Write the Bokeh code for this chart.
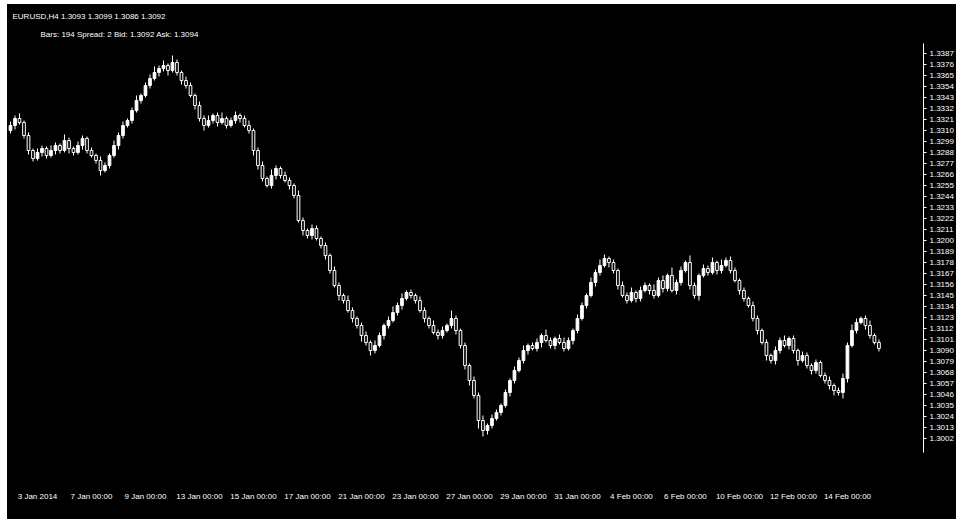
from bokeh.plotting import figure
from bokeh.models import Range1d, FixedTicker, PrintfTickFormatter, Title, ColumnDataSource
from bokeh.embed import file_html
from bokeh.resources import INLINE

# ---- data ----
first_open = 1.3310
close = [
    1.3315, 1.3322, 1.3318,
    1.3305, 1.3290, 1.3282,
    1.3288, 1.3292, 1.3285, 1.3290, 1.3295, 1.3290, 1.3300, 1.3292, 1.3288, 1.3295, 1.3302, 1.3290, 1.3285, 1.3280, 1.3270,
    1.3275, 1.3285, 1.3295, 1.3305, 1.3315, 1.3320,
    1.3330, 1.3340, 1.3345, 1.3355, 1.3362, 1.3368, 1.3372,
    1.3375, 1.3370, 1.3378, 1.3368, 1.3360,
    1.3355, 1.3345, 1.3335, 1.3322,
    1.3315, 1.3320, 1.3325, 1.3318, 1.3322, 1.3315, 1.3320, 1.3325, 1.3322, 1.3315, 1.3310,
    1.3290, 1.3275, 1.3262, 1.3255, 1.3265,
    1.3272, 1.3265, 1.3260, 1.3255, 1.3245,
    1.3220, 1.3210, 1.3205, 1.3212, 1.3202, 1.3195, 1.3185,
    1.3170, 1.3155, 1.3145, 1.3140, 1.3130, 1.3122,
    1.3115, 1.3105, 1.3098, 1.3090, 1.3095,
    1.3105, 1.3115, 1.3120, 1.3128, 1.3135,
    1.3142, 1.3148, 1.3145, 1.3140,
    1.3130, 1.3122, 1.3115, 1.3108, 1.3105, 1.3110,
    1.3115, 1.3122, 1.3110, 1.3095,
    1.3075, 1.3060, 1.3045, 1.3020,
    1.3010, 1.3015, 1.3022, 1.3028,
    1.3035, 1.3048, 1.3060, 1.3070,
    1.3080, 1.3090, 1.3095, 1.3092, 1.3098,
    1.3105, 1.3100, 1.3095, 1.3102, 1.3098, 1.3092, 1.3100,
    1.3110, 1.3122, 1.3135, 1.3145, 1.3158,
    1.3168, 1.3175, 1.3182, 1.3178, 1.3170,
    1.3155, 1.3145, 1.3140, 1.3148, 1.3142, 1.3150,
    1.3155, 1.3150, 1.3145, 1.3160, 1.3152, 1.3165, 1.3150, 1.3158,
    1.3170, 1.3178, 1.3155, 1.3145, 1.3165,
    1.3172, 1.3168, 1.3178, 1.3170, 1.3175, 1.3180, 1.3170,
    1.3160, 1.3150, 1.3142, 1.3135,
    1.3122, 1.3110, 1.3098, 1.3085, 1.3080,
    1.3090, 1.3100, 1.3095, 1.3102, 1.3090,
    1.3080, 1.3085, 1.3075, 1.3070, 1.3078, 1.3065, 1.3060,
    1.3055, 1.3050, 1.3048, 1.3062,
    1.3095, 1.3110, 1.3118, 1.3122, 1.3115,
    1.3105, 1.3098, 1.3092,
]
# wick lengths above / below the body, in pips
upper_wick = [
    4, 3, 5, 2, 3, 2, 4, 3, 2, 5,
    3, 2, 6, 3, 2, 4, 3, 2, 3, 2,
    4, 3, 2, 5, 3, 4, 2, 3, 5, 2,
    3, 4, 6, 3, 5, 2, 7, 3, 2, 4,
    3, 2, 4, 3, 5, 2, 3, 6, 2, 3,
    4, 2, 3, 5, 2, 3, 4, 2, 6, 3,
    2, 4, 3, 2, 5, 3, 2, 4, 3, 2,
    3, 2, 4, 3, 2, 5, 3, 2, 3, 4,
    2, 5, 3, 2, 4, 6, 3, 5, 2, 3,
    2, 4, 3, 2, 5, 3, 4, 2, 8, 3,
    2, 3, 2, 4, 3, 5, 2, 4, 3, 2,
    3, 2, 4, 3, 5, 2, 3, 4, 2, 6,
    3, 2, 4, 5, 3, 2, 4, 3, 2, 5,
    3, 6, 4, 2, 3, 2, 4, 3, 5, 2,
    4, 3, 2, 6, 3, 5, 2, 8, 3, 4,
    2, 7, 3, 2, 4, 3, 5, 2, 6, 3,
    4, 3, 2, 3, 2, 4, 3, 2, 3, 2,
    4, 3, 5, 2, 3, 2, 4, 3, 2, 3,
    2, 3, 4, 2, 3, 5, 3, 6, 4, 2,
    3, 5, 2, 3,
]
lower_wick = [
    3, 4, 2, 3, 4, 3, 2, 4, 3, 2,
    4, 3, 2, 5, 3, 2, 4, 3, 2, 3,
    5, 2, 3, 2, 4, 3, 2, 3, 2, 3,
    2, 3, 2, 4, 3, 5, 2, 3, 4, 3,
    2, 4, 3, 5, 2, 3, 4, 2, 3, 2,
    3, 4, 2, 3, 5, 4, 3, 2, 3, 4,
    3, 2, 4, 3, 2, 5, 3, 4, 2, 3,
    4, 3, 2, 5, 3, 2, 4, 3, 6, 3,
    5, 3, 2, 4, 3, 2, 3, 4, 2, 3,
    3, 2, 4, 3, 2, 4, 3, 2, 3, 4,
    3, 4, 5, 3, 8, 6, 4, 3, 2, 3,
    2, 4, 3, 2, 3, 4, 2, 3, 5, 2,
    3, 4, 2, 3, 2, 4, 3, 2, 3, 2,
    4, 3, 2, 5, 3, 4, 2, 3, 2, 4,
    3, 2, 4, 3, 2, 4, 3, 2, 4, 3,
    2, 4, 3, 5, 2, 3, 2, 4, 3, 2,
    3, 2, 4, 3, 2, 3, 4, 2, 5, 3,
    4, 3, 2, 4, 3, 5, 2, 3, 4, 3,
    2, 3, 4, 5, 3, 6, 4, 2, 3, 2,
    4, 3, 2, 3,
]
price_ticks = [
    1.3387, 1.3376, 1.3365, 1.3354, 1.3343, 1.3332, 1.3321, 1.3310, 1.3299, 1.3288,
    1.3277, 1.3266, 1.3255, 1.3244, 1.3233, 1.3222, 1.3211, 1.3200, 1.3189, 1.3178,
    1.3167, 1.3156, 1.3145, 1.3134, 1.3123, 1.3112, 1.3101, 1.3090, 1.3079, 1.3068,
    1.3057, 1.3046, 1.3035, 1.3024, 1.3013, 1.3002,
]
time_tick_idx = [6, 18, 30, 42, 54, 66, 78, 90, 102, 114, 126, 138, 150, 162, 174, 186]
time_tick_labels = [
    "3 Jan 2014", "7 Jan 00:00", "9 Jan 00:00", "13 Jan 00:00", "15 Jan 00:00",
    "17 Jan 00:00", "21 Jan 00:00", "23 Jan 00:00", "27 Jan 00:00", "29 Jan 00:00",
    "31 Jan 00:00", "4 Feb 00:00", "6 Feb 00:00", "10 Feb 00:00", "12 Feb 00:00",
    "14 Feb 00:00",
]
header_line1 = "EURUSD,H4   1.3093 1.3099 1.3086 1.3092"
header_line2 = "Bars: 194     Spread: 2     Bid: 1.3092     Ask: 1.3094"

# ---- build OHLC ----
opens = [first_open] + close[:-1]
idx = list(range(len(close)))
PIP = 0.0001
highs = [max(o, c) + u * PIP for o, c, u in zip(opens, close, upper_wick)]
lows = [min(o, c) - l * PIP for o, c, l in zip(opens, close, lower_wick)]
fills = ["white" if c >= o else "black" for o, c in zip(opens, close)]
src = ColumnDataSource(dict(x=idx, open=opens, close=close, high=highs, low=lows, fill=fills))

p = figure(width=949, height=515, output_backend="svg", toolbar_location=None,
           x_range=Range1d(-0.667, 202.9), y_range=Range1d(1.2988, 1.3397),
           y_axis_location="right",
           background_fill_color="black", border_fill_color="black",
           outline_line_color=None,
           min_border_top=39, min_border_left=0, min_border_right=0, min_border_bottom=67)
p.margin = (4, 0, 0, 7)
p.styles = {"background-color": "black"}

p.segment(x0="x", y0="low", x1="x", y1="high", source=src, line_color="white", line_width=1)
p.vbar(x="x", width=0.6, top="open", bottom="close", source=src,
       fill_color="fill", line_color="white", line_width=1)

p.xgrid.visible = False
p.ygrid.visible = False

ya = p.yaxis[0]
ya.ticker = FixedTicker(ticks=price_ticks)
ya.formatter = PrintfTickFormatter(format="%.4f")
ya.axis_line_color = "white"
ya.major_tick_line_color = "white"
ya.major_tick_out = 3
ya.major_tick_in = 0
ya.minor_tick_line_color = None
ya.major_label_text_color = "white"
ya.major_label_text_font = "Liberation Sans"
ya.major_label_text_font_size = "8px"
ya.major_label_standoff = 3

xa = p.xaxis[0]
xa.ticker = FixedTicker(ticks=time_tick_idx)
xa.major_label_overrides = {i: s for i, s in zip(time_tick_idx, time_tick_labels)}
xa.axis_line_color = None
xa.major_tick_line_color = None
xa.minor_tick_line_color = None
xa.major_label_text_color = "white"
xa.major_label_text_font = "Liberation Sans"
xa.major_label_text_font_size = "8px"
xa.major_label_standoff = 33

p.add_layout(Title(text=header_line2, align="left", text_color="white", text_font="Liberation Sans",
                   text_font_size="8px", text_font_style="normal", standoff=10, offset=33), "above")
p.add_layout(Title(text=header_line1, align="left", text_color="white", text_font="Liberation Sans",
                   text_font_size="8px", text_font_style="normal", standoff=4, offset=5), "above")

open("out.html", "w").write(file_html(p, INLINE))
